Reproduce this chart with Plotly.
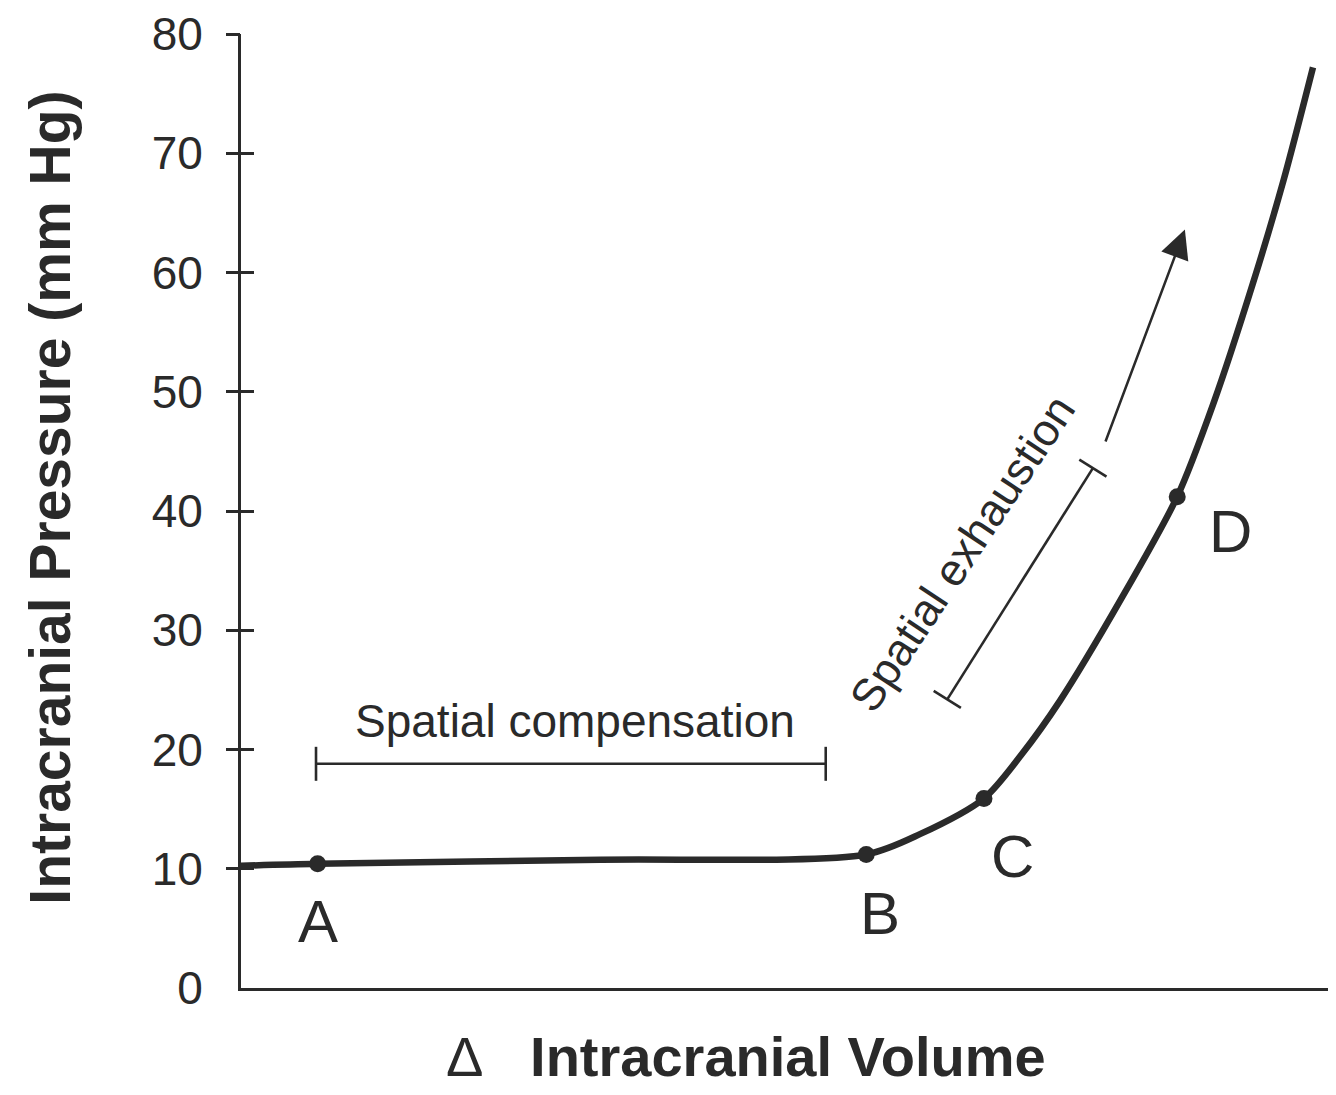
import plotly.graph_objects as go

# ---- data ----
curve_x = [0.0, 7.0, 32.8, 57.1, 62.0, 67.85, 71.3, 74.8, 80.3, 85.5, 88.8, 92.4, 95.2, 97.9]
curve_y = [10.25, 10.42, 10.75, 11.2, 12.9, 15.9, 19.6, 24.1, 32.5, 41.2, 49.0, 59.05, 67.7, 77.2]

point_labels = ["A", "B", "C", "D"]
point_x = [7.0, 57.1, 67.85, 85.5]
point_y = [10.42, 11.2, 15.9, 41.2]
label_dx = [0, 14, 29, 53]
label_dy = [-58, -59, -58, -35]

y_tick_vals = [0, 10, 20, 30, 40, 50, 60, 70, 80]
y_tick_text = ["0", "10", "20", "30", "40", "50", "60", "70", "80"]
y_cross_ticks = [10, 20, 30, 40, 50, 60, 70, 80]

# annotation brackets (x0, y0, x1, y1)
comp_bracket = [6.85, 18.8, 53.4, 18.8]
comp_text_pos = [30.5, 22.4]
exh_bracket = [64.5, 24.2, 77.8, 43.6]
exh_text_pos = [65.9, 36.4]
exh_arrow = [78.9, 45.7, 86.2, 63.6]

INK = "#2a2a2a"
FONT = "Liberation Sans, Arial, Helvetica, sans-serif"

fig = go.Figure()

fig.add_trace(go.Scatter(
    x=curve_x, y=curve_y, mode="lines",
    line=dict(color=INK, width=6.5, shape="spline", smoothing=0.8),
    hoverinfo="skip", showlegend=False))

fig.add_trace(go.Scatter(
    x=point_x, y=point_y, mode="markers",
    marker=dict(color=INK, size=17),
    text=point_labels, showlegend=False))

annotations = []
for lab, px, py, dx, dy in zip(point_labels, point_x, point_y, label_dx, label_dy):
    annotations.append(dict(x=px, y=py, xref="x", yref="y", text=lab, showarrow=False,
                            xshift=dx, yshift=dy,
                            font=dict(family=FONT, size=60, color=INK)))

annotations.append(dict(x=comp_text_pos[0], y=comp_text_pos[1], xref="x", yref="y",
                        text="Spatial compensation", showarrow=False,
                        font=dict(family=FONT, size=46, color=INK)))
annotations.append(dict(x=exh_text_pos[0], y=exh_text_pos[1], xref="x", yref="y",
                        text="Spatial exhaustion", showarrow=False, textangle=-56.5,
                        font=dict(family=FONT, size=45, color=INK)))
annotations.append(dict(x=exh_arrow[2], y=exh_arrow[3], ax=exh_arrow[0], ay=exh_arrow[1],
                        xref="x", yref="y", axref="x", ayref="y", text="",
                        showarrow=True, arrowhead=2, arrowsize=2.3, arrowwidth=2.5,
                        arrowcolor=INK))

# axis titles
annotations.append(dict(x=-0.1744, y=0.514, xref="paper", yref="paper",
                        xanchor="center", yanchor="middle",
                        text="<b>Intracranial Pressure (mm Hg)</b>", textangle=-90,
                        showarrow=False, font=dict(family=FONT, size=57, color=INK)))
annotations.append(dict(x=0.461, y=-0.0717, xref="paper", yref="paper",
                        xanchor="center", yanchor="middle",
                        text="\u0394\u00a0\u00a0\u00a0<b>Intracranial Volume</b>",
                        showarrow=False, font=dict(family=FONT, size=56, color=INK)))

shapes = []
lw = 2.6
# spatial compensation bracket
shapes.append(dict(type="line", xref="x", yref="y", x0=comp_bracket[0], y0=comp_bracket[1],
                   x1=comp_bracket[2], y1=comp_bracket[3], line=dict(color=INK, width=lw)))
for xc, yc in [(comp_bracket[0], comp_bracket[1]), (comp_bracket[2], comp_bracket[3])]:
    shapes.append(dict(type="line", xref="x", yref="y", xsizemode="pixel", ysizemode="pixel",
                       xanchor=xc, yanchor=yc, x0=0, x1=0, y0=-17, y1=17,
                       line=dict(color=INK, width=lw)))
# spatial exhaustion bracket
shapes.append(dict(type="line", xref="x", yref="y", x0=exh_bracket[0], y0=exh_bracket[1],
                   x1=exh_bracket[2], y1=exh_bracket[3], line=dict(color=INK, width=lw)))
for xc, yc in [(exh_bracket[0], exh_bracket[1]), (exh_bracket[2], exh_bracket[3])]:
    shapes.append(dict(type="line", xref="x", yref="y", xsizemode="pixel", ysizemode="pixel",
                       xanchor=xc, yanchor=yc, x0=-13.6, x1=13.6, y0=8.5, y1=-8.5,
                       line=dict(color=INK, width=lw)))

fig.update_layout(
    width=1328, height=1087,
    margin=dict(l=233, r=0, t=17, b=107),
    paper_bgcolor="white", plot_bgcolor="white",
    showlegend=False,
    font=dict(family=FONT, color=INK),
    xaxis=dict(range=[0, 100], showgrid=False, zeroline=False, showticklabels=False,
               ticks="", showline=True, linecolor=INK, linewidth=3, fixedrange=True),
    yaxis=dict(range=[0, 80], showgrid=False, zeroline=False, tickvals=y_tick_vals,
               ticktext=y_tick_text, ticks="", ticklabelstandoff=26,
               ticklabeloverflow="allow",
               tickfont=dict(family=FONT, size=46, color=INK),
               showline=True, linecolor=INK, linewidth=3),
    yaxis2=dict(range=[0, 80], overlaying="y", side="left", anchor="x", showgrid=False,
                zeroline=False, tickvals=y_cross_ticks, showticklabels=False,
                ticks="outside", ticklen=14, tickwidth=3, tickcolor=INK, showline=False),
    yaxis3=dict(range=[0, 80], overlaying="y", side="left", anchor="x", showgrid=False,
                zeroline=False, tickvals=y_cross_ticks, showticklabels=False,
                ticks="inside", ticklen=13, tickwidth=3, tickcolor=INK, showline=False),
    annotations=annotations,
    shapes=shapes,
)

# invisible traces that activate the overlay tick axes
fig.add_trace(go.Scatter(x=[None], y=[None], yaxis="y2", showlegend=False, hoverinfo="skip"))
fig.add_trace(go.Scatter(x=[None], y=[None], yaxis="y3", showlegend=False, hoverinfo="skip"))

fig.write_html("out.html")
